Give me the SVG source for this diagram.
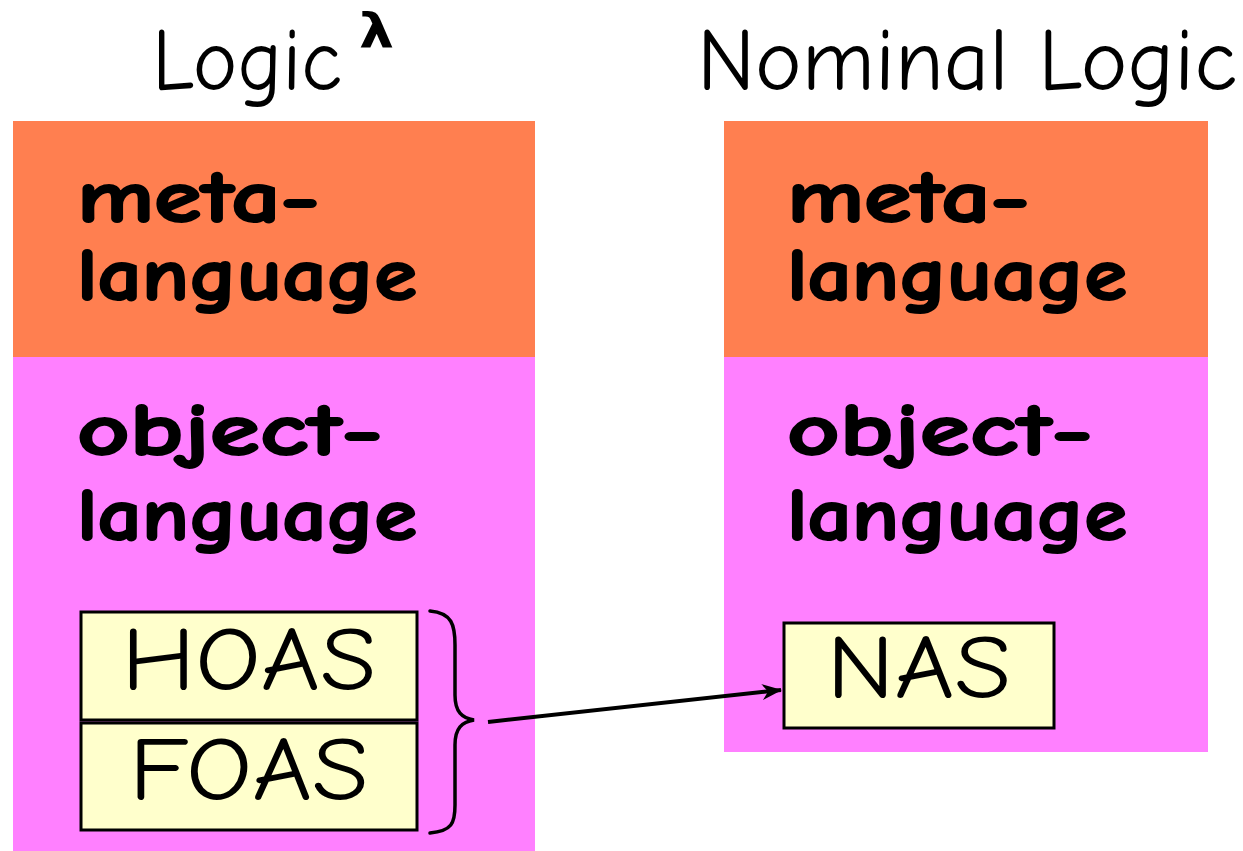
<svg xmlns="http://www.w3.org/2000/svg" width="1243" height="851" viewBox="0 0 1243 851">
<defs>
<style>
.title{font-family:"Comic Neue","Liberation Sans",sans-serif;font-size:88px;fill:#000}
.big{font-family:"Comic Neue","Liberation Sans",sans-serif;font-weight:bold;font-size:74px;fill:#000;stroke:#000;stroke-width:2}
.box{fill:#FFFFCC;stroke:#000;stroke-width:3}
.lbl{font-family:"Comic Neue","Liberation Sans",sans-serif;font-size:90px;fill:#000;text-anchor:middle}
.meta{fill:#FF7F50}
.obj{fill:#FF80FF}
</style>
<marker id="ah" viewBox="0 0 20 16" refX="19" refY="8" markerWidth="20" markerHeight="16" markerUnits="userSpaceOnUse" orient="auto">
<path d="M0,0 L20,8 L0,16 L6,8 Z" fill="#000"/>
</marker>
</defs>
<rect width="1243" height="851" fill="#fff"/>
<g id="left">
<text class="title" x="152" y="90" textLength="190" lengthAdjust="spacingAndGlyphs">Logic</text>
<text x="359" y="48" font-family="DejaVu Sans, sans-serif" font-weight="bold" font-size="48" fill="#000" textLength="35" lengthAdjust="spacingAndGlyphs">λ</text>
<rect class="meta" x="13" y="121" width="522" height="236"/>
<rect class="obj" x="13" y="357" width="522" height="494"/>
<text class="big" x="77" y="222" textLength="243" lengthAdjust="spacingAndGlyphs">meta-</text>
<text class="big" x="77" y="300" textLength="340" lengthAdjust="spacingAndGlyphs">language</text>
<text class="big" x="77" y="455" textLength="306" lengthAdjust="spacingAndGlyphs">object-</text>
<text class="big" x="77" y="540" textLength="340" lengthAdjust="spacingAndGlyphs">language</text>
</g>
<g id="hoas">
<rect class="box" x="81" y="612" width="336" height="108"/>
<text class="lbl" x="249" y="690" textLength="255" lengthAdjust="spacingAndGlyphs">HOAS</text>
</g>
<g id="foas">
<rect class="box" x="81" y="723" width="336" height="107"/>
<text class="lbl" x="249" y="800" textLength="240" lengthAdjust="spacingAndGlyphs">FOAS</text>
</g>
<g id="brace">
<path d="M430,611 C452,613 455,625 455,645 L455,695 C455,712 462,718 474,720 C462,722 455,728 455,745 L455,805 C455,823 452,831 430,833" fill="none" stroke="#000" stroke-width="3.5" stroke-linecap="round"/>
</g>
<g id="right">
<text class="title" x="697" y="90" textLength="540" lengthAdjust="spacingAndGlyphs">Nominal Logic</text>
<rect class="meta" x="724" y="121" width="484" height="236"/>
<rect class="obj" x="724" y="357" width="484" height="395"/>
<text class="big" x="787" y="222" textLength="243" lengthAdjust="spacingAndGlyphs">meta-</text>
<text class="big" x="787" y="300" textLength="340" lengthAdjust="spacingAndGlyphs">language</text>
<text class="big" x="787" y="455" textLength="306" lengthAdjust="spacingAndGlyphs">object-</text>
<text class="big" x="787" y="540" textLength="340" lengthAdjust="spacingAndGlyphs">language</text>
</g>
<g id="nas">
<rect class="box" x="784" y="623" width="270" height="105"/>
<text class="lbl" x="919" y="698" textLength="185" lengthAdjust="spacingAndGlyphs">NAS</text>
</g>
<g id="connectors">
<line x1="488" y1="722" x2="781" y2="690" stroke="#000" stroke-width="4" marker-end="url(#ah)"/>
</g>
</svg>
